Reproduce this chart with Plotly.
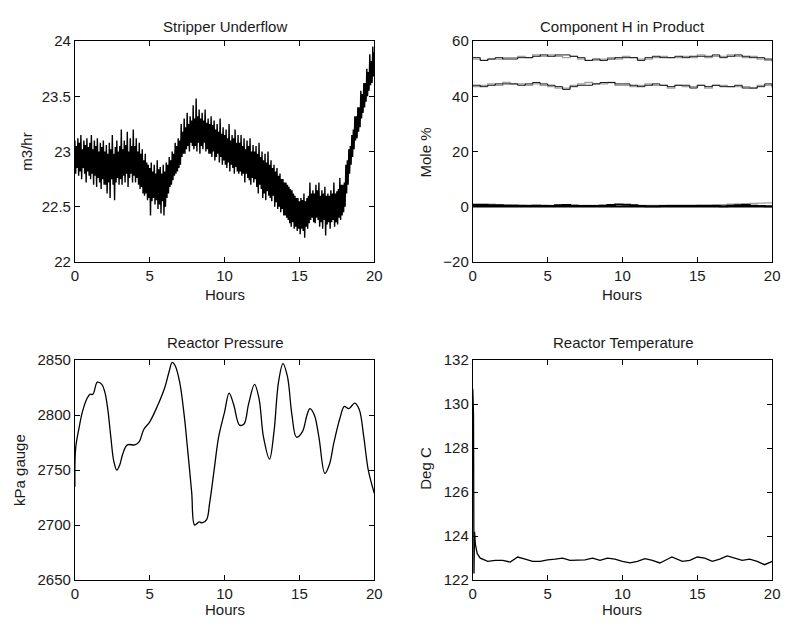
import plotly.graph_objects as go

# ---------------- data ----------------
# Stripper Underflow (m3/hr): upper swing samples at t = 0, 0.1, ..., 20
su_t_hi = [i / 10 for i in range(201)]
su_v_hi = [
    23.10, 23.05, 23.12, 23.08, 23.15, 23.02, 23.10, 23.06, 23.12, 23.04,
    23.08, 23.15, 23.02, 23.10, 23.05, 23.12, 23.00, 23.08, 23.04, 23.10,
    23.00, 23.06, 22.98, 23.08, 23.02, 23.15, 22.98, 23.04, 23.10, 23.00,
    23.05, 23.20, 23.02, 23.10, 23.06, 23.18, 23.00, 23.12, 23.05, 23.20,
    23.05, 23.12, 23.00, 23.08, 22.98, 23.02, 22.92, 22.98, 22.90, 22.88,
    22.85, 22.90, 22.82, 22.88, 22.80, 22.92, 22.84, 22.86, 22.80, 22.88,
    22.82, 22.90, 22.88, 22.95, 22.92, 23.00, 22.98, 23.08, 23.05, 23.12,
    23.10, 23.25, 23.18, 23.30, 23.22, 23.35, 23.25, 23.32, 23.28, 23.42,
    23.30, 23.48, 23.32, 23.38, 23.30, 23.35, 23.28, 23.38, 23.26, 23.30,
    23.25, 23.32, 23.24, 23.28, 23.20, 23.25, 23.18, 23.30, 23.16, 23.22,
    23.15, 23.20, 23.12, 23.25, 23.10, 23.15, 23.12, 23.20, 23.08, 23.15,
    23.08, 23.15, 23.05, 23.12, 23.02, 23.10, 23.05, 23.12, 23.00, 23.06,
    23.00, 23.05, 22.98, 23.08, 22.95, 23.00, 22.92, 22.98, 22.90, 23.00,
    22.88, 22.92, 22.85, 22.88, 22.82, 22.85, 22.78, 22.80, 22.75, 22.75,
    22.72, 22.72, 22.70, 22.68, 22.66, 22.65, 22.62, 22.60, 22.58, 22.58,
    22.55, 22.58, 22.56, 22.62, 22.55, 22.58, 22.60, 22.72, 22.62, 22.65,
    22.62, 22.70, 22.65, 22.72, 22.60, 22.65, 22.62, 22.68, 22.60, 22.62,
    22.60, 22.65, 22.62, 22.72, 22.62, 22.64, 22.66, 22.76, 22.70, 22.70,
    22.72, 22.88, 22.92, 23.02, 23.05, 23.15, 23.20, 23.32, 23.32, 23.40,
    23.40, 23.55, 23.52, 23.62, 23.62, 23.75, 23.72, 23.88, 23.82, 23.95,
    23.90,
]
# lower swing samples at t = 0.05, 0.15, ..., 19.95
su_t_lo = [i / 10 + 0.05 for i in range(200)]
su_v_lo = [
    22.80, 22.85, 22.78, 22.82, 22.75, 22.85, 22.80, 22.72, 22.82, 22.78,
    22.75, 22.80, 22.70, 22.78, 22.68, 22.76, 22.72, 22.66, 22.75, 22.70,
    22.70, 22.62, 22.72, 22.58, 22.75, 22.70, 22.56, 22.72, 22.76, 22.70,
    22.75, 22.70, 22.78, 22.72, 22.80, 22.68, 22.76, 22.80, 22.72, 22.78,
    22.72, 22.76, 22.70, 22.66, 22.68, 22.62, 22.60, 22.62, 22.56, 22.58,
    22.42, 22.55, 22.58, 22.52, 22.56, 22.48, 22.52, 22.44, 22.55, 22.42,
    22.50, 22.58, 22.62, 22.68, 22.70, 22.74, 22.78, 22.80, 22.82, 22.85,
    22.88, 22.95, 22.98, 22.98, 23.02, 23.05, 23.00, 23.08, 23.05, 23.02,
    23.05, 23.00, 23.08, 22.98, 23.05, 23.02, 23.08, 23.00, 23.02, 22.98,
    22.98, 22.95, 23.00, 22.92, 22.95, 22.98, 22.90, 22.95, 22.88, 22.92,
    22.88, 22.85, 22.90, 22.82, 22.88, 22.85, 22.80, 22.86, 22.82, 22.80,
    22.82, 22.78, 22.80, 22.72, 22.80, 22.76, 22.74, 22.70, 22.76, 22.72,
    22.75, 22.68, 22.62, 22.70, 22.66, 22.58, 22.62, 22.56, 22.64, 22.60,
    22.58, 22.55, 22.60, 22.50, 22.54, 22.48, 22.50, 22.45, 22.48, 22.42,
    22.42, 22.40, 22.38, 22.35, 22.32, 22.36, 22.30, 22.32, 22.28, 22.30,
    22.25, 22.30, 22.28, 22.22, 22.32, 22.30, 22.35, 22.38, 22.40, 22.36,
    22.35, 22.40, 22.38, 22.32, 22.36, 22.30, 22.38, 22.24, 22.34, 22.36,
    22.30, 22.36, 22.38, 22.32, 22.36, 22.34, 22.40, 22.38, 22.42, 22.45,
    22.50, 22.62, 22.70, 22.80, 22.88, 22.95, 23.02, 23.10, 23.12, 23.18,
    23.22, 23.30, 23.35, 23.40, 23.45, 23.50, 23.55, 23.60, 23.62, 23.68,
]

# Component H in Product (mole %), stepped, every 0.5 h
ch_t = [i / 2 for i in range(41)]
ch_hi_black = [54, 53, 53.5, 54, 53.5, 53.5, 54, 54, 54.5, 55, 54.5, 55, 55, 54.5, 54, 53, 53.5, 53, 53.5, 54, 54,
               54, 53, 54, 54.5, 54, 54, 54.5, 54, 54.5, 54.5, 54.5, 55, 54, 54.5, 55, 54.5, 54, 54, 53.5, 53]
ch_hi_gray = [53.5, 53, 53.5, 53.5, 54, 54, 54.5, 54, 55, 54.5, 55, 54.5, 54, 54.5, 53.5, 53, 53, 53.5, 54, 53.5, 54.5,
              54, 53.5, 53.5, 54, 54.5, 54, 54, 54.5, 54, 55, 54, 54.5, 54.5, 55, 54.5, 54, 54.5, 53.5, 53, 52.5]
ch_lo_black = [44, 43.5, 44, 44.5, 44.5, 44.5, 44, 44.5, 45, 44.5, 44, 43.5, 42.5, 43.5, 44, 44, 44.5, 45, 45, 44.5, 44.5,
               44, 43.5, 44, 44.5, 44, 43.5, 44, 44, 43, 44, 43.5, 44, 43.5, 43.5, 44, 43, 43, 43.5, 44.5, 43.5]
ch_lo_gray = [43.5, 44, 44.5, 44, 45, 44.5, 44.5, 44, 44.5, 44, 43.5, 43, 43, 44, 44.5, 45, 44.5, 44.5, 45, 44, 44,
              43.5, 44, 44.5, 44, 44, 43, 44, 43.5, 43.5, 44, 43, 44, 44, 43.5, 43.5, 43.5, 43, 44, 44, 43]
ch_zero_black = [0.6, 0.6, 0.5, 0.5, 0.4, 0.4, 0.3, 0.3, 0.4, 0.3, 0.3, 0.5, 0.6, 0.4, 0.3, 0.3, 0.3, 0.4, 0.6, 0.8, 0.7,
                 0.5, 0.3, 0.2, 0.2, 0.3, 0.3, 0.3, 0.3, 0.3, 0.3, 0.3, 0.3, 0.2, 0.4, 0.5, 0.6, 0.4, 0.3, 0.2, 0.2]
ch_zero_gray = [1.0, 1.0, 0.9, 0.8, 0.8, 0.7, 0.7, 0.6, 0.6, 0.6, 0.5, 0.6, 0.6, 0.6, 0.5, 0.5, 0.5, 0.6, 0.6, 0.6, 0.5,
                0.5, 0.5, 0.5, 0.5, 0.5, 0.6, 0.6, 0.6, 0.6, 0.7, 0.7, 0.8, 0.8, 0.9, 1.0, 1.1, 1.2, 1.3, 1.4, 1.5]
ch_base_t = [0, 20]
ch_base_v = [0.0, 0.0]

# Reactor Pressure (kPa gauge)
rp_t = [0, 0.05, 0.3, 0.5, 0.8, 1.0, 1.2, 1.5, 1.8, 2.0, 2.2, 2.4, 2.6, 2.8, 3.0, 3.2, 3.5, 4.0, 4.3, 4.6, 5.0,
        5.5, 6.0, 6.3, 6.5, 6.7, 7.0, 7.3, 7.5, 7.8, 8.0, 8.3, 8.5, 8.8, 9.0, 9.3, 9.6, 10.0, 10.3, 10.6, 11.0,
        11.3, 11.6, 12.0, 12.3, 12.6, 13.0, 13.3, 13.6, 13.9, 14.2, 14.5, 14.8, 15.2, 15.5, 15.7, 16.0, 16.3,
        16.7, 17.0, 17.3, 17.7, 18.0, 18.3, 18.7, 19.0, 19.3, 19.6, 20.0]
rp_v = [2735, 2770, 2790, 2803, 2815, 2819, 2819, 2830, 2828, 2821, 2805, 2780, 2758, 2750, 2755, 2765, 2773, 2773,
        2776, 2787, 2794, 2808, 2825, 2840, 2848, 2845, 2830, 2800, 2773, 2730, 2700, 2703, 2702, 2705, 2720,
        2750, 2780, 2803, 2820, 2810, 2791, 2792, 2810, 2828, 2815, 2780, 2760, 2785, 2830, 2847, 2835, 2800,
        2780, 2785, 2800, 2806, 2800, 2780, 2747, 2755, 2775, 2797, 2808, 2806, 2811, 2805, 2780, 2750, 2729]

# Reactor Temperature (deg C)
rt_t = [0, 0.05, 0.08, 0.12, 0.18, 0.3, 0.5, 1.0, 1.5, 2.0, 2.5, 3.0, 3.5, 4.0, 4.5, 5.0, 5.5, 6.0, 6.5, 7.0,
        7.5, 8.0, 8.5, 9.0, 9.5, 10.0, 10.5, 11.0, 11.5, 12.0, 12.5, 13.0, 13.3, 14.0, 14.5, 15.0, 15.5, 16.0,
        16.5, 17.0, 17.5, 18.0, 18.5, 19.0, 19.5, 20.0]
rt_v = [130.7, 129.5, 122.3, 124.2, 123.6, 123.2, 123.0, 122.85, 122.9, 122.9, 122.82, 123.05, 122.95, 122.85,
        122.85, 122.92, 122.95, 123.0, 122.9, 122.9, 122.92, 123.0, 122.9, 123.0, 122.95, 122.85, 122.78, 122.85,
        122.98, 122.9, 122.78, 122.95, 123.05, 122.85, 122.9, 123.05, 123.0, 122.85, 122.95, 123.1, 123.0, 122.9,
        122.95, 122.85, 122.7, 122.85]

titles = ["Stripper Underflow", "Component H in Product", "Reactor Pressure", "Reactor Temperature"]
ylabels = ["m3/hr", "Mole %", "kPa gauge", "Deg C"]
xlabel = "Hours"

# ---------------- figure ----------------
W, H = 790, 628
FONT = "Liberation Sans, Arial, Helvetica, sans-serif"
TXT = "#1a1a1a"

def px_x(x):
    return x / W

def px_y(y):
    return 1 - y / H

# merge upper and lower swing samples in time order
su_pairs = sorted(zip(su_t_hi + su_t_lo, su_v_hi + su_v_lo))
su_t = [p[0] for p in su_pairs]
su_v = [p[1] for p in su_pairs]

fig = go.Figure()

fig.add_trace(go.Scatter(x=su_t, y=su_v, mode="lines",
                         line=dict(color="black", width=1.4, simplify=False),
                         xaxis="x", yaxis="y"))

fig.add_trace(go.Scatter(x=ch_base_t, y=ch_base_v, mode="lines", line=dict(color="black", width=1.5),
                         xaxis="x2", yaxis="y2"))
for vals, col, w in [(ch_hi_gray, "#a0a0a0", 1.3), (ch_hi_black, "black", 0.9),
                     (ch_lo_gray, "#a0a0a0", 1.3), (ch_lo_black, "black", 0.9),
                     (ch_zero_gray, "#a0a0a0", 1.3), (ch_zero_black, "black", 2.0)]:
    fig.add_trace(go.Scatter(x=ch_t, y=vals, mode="lines", line=dict(color=col, width=w, shape="hv"),
                             xaxis="x2", yaxis="y2"))

fig.add_trace(go.Scatter(x=rp_t, y=rp_v, mode="lines", line=dict(color="black", width=1.3, shape="spline"),
                         xaxis="x3", yaxis="y3"))
fig.add_trace(go.Scatter(x=rt_t, y=rt_v, mode="lines", line=dict(color="black", width=1.3),
                         xaxis="x4", yaxis="y4"))

dom_x = [[px_x(72), px_x(376)], [px_x(476), px_x(780)]]
dom_y = [[px_y(260), px_y(33)], [px_y(587), px_y(361)]]

def ax_common():
    return dict(showline=True, linecolor="black", linewidth=1, mirror="ticks", ticks="inside",
                ticklen=5, tickcolor="black", showgrid=False, zeroline=False,
                tickfont=dict(family=FONT, size=15, color=TXT))

yranges = [[22, 24], [-20, 60], [2650, 2850], [122, 132]]
yticks = [[22, 22.5, 23, 23.5, 24], [-20, 0, 20, 40, 60], [2650, 2700, 2750, 2800, 2850],
          [122, 124, 126, 128, 130, 132]]
layout_axes = {}
for i in range(4):
    col = i % 2
    row = i // 2
    sfx = "" if i == 0 else str(i + 1)
    xa = ax_common()
    xa.update(domain=dom_x[col], range=[0, 20], tickvals=[0, 5, 10, 15, 20], anchor="y" + sfx)
    ya = ax_common()
    ya.update(domain=dom_y[row], range=yranges[i], tickvals=yticks[i], anchor="x" + sfx)
    layout_axes["xaxis" + sfx] = xa
    layout_axes["yaxis" + sfx] = ya

annotations = []
title_pos = [(224, 18), (628, 18), (225, 343), (629, 343)]
hours_pos = [(224, 293), (628, 293), (224, 617), (628, 617)]
ylab_pos = [(22, 147), (428, 147), (15, 474), (428, 472)]
for i in range(4):
    tx, ty = title_pos[i]
    annotations.append(dict(text=titles[i], x=px_x(tx), y=px_y(ty), xref="paper", yref="paper",
                            showarrow=False, xanchor="center", yanchor="middle",
                            font=dict(family=FONT, size=15, color=TXT)))
    hx, hy = hours_pos[i]
    annotations.append(dict(text=xlabel, x=px_x(hx), y=px_y(hy), xref="paper", yref="paper",
                            showarrow=False, xanchor="center", yanchor="middle",
                            font=dict(family=FONT, size=15, color=TXT)))
    lx, ly = ylab_pos[i]
    annotations.append(dict(text=ylabels[i], x=px_x(lx), y=px_y(ly), xref="paper", yref="paper",
                            showarrow=False, xanchor="center", yanchor="middle", textangle=-90,
                            font=dict(family=FONT, size=15, color=TXT)))

fig.update_layout(width=W, height=H, margin=dict(l=0, r=0, t=0, b=0),
                  paper_bgcolor="white", plot_bgcolor="white", showlegend=False,
                  annotations=annotations, **layout_axes)

fig.write_html("out.html")
